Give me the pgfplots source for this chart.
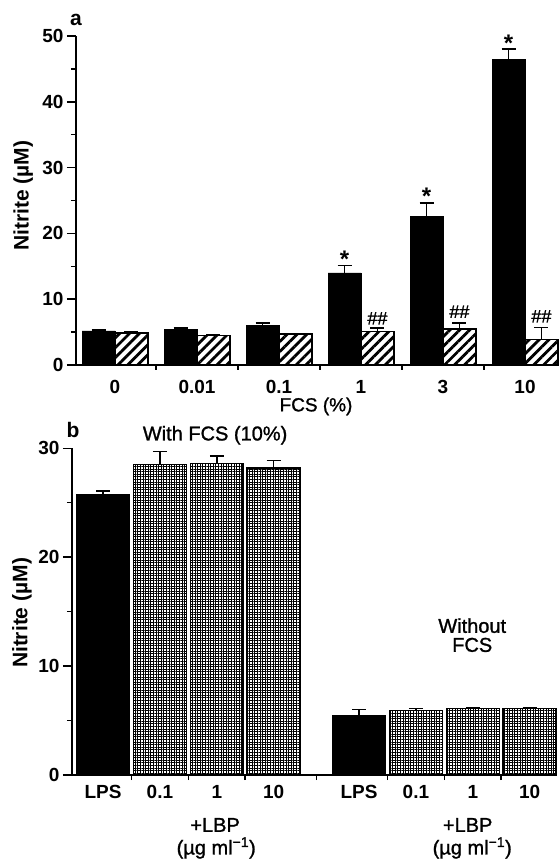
\documentclass[border=0pt]{standalone}
\usepackage{fontspec}
\setmainfont{Liberation Sans}
\newfontfamily\med{Liberation Sans}[FakeBold=1.2]
\usepackage{pgfplots}
\pgfplotsset{compat=1.18}
\usetikzlibrary{patterns.meta}

\newcommand{\fs}[1]{\fontsize{#1}{#1}\selectfont}

\pgfplotsset{
  panel/.style={
    scale only axis, clip=false, ybar,
    axis lines=left, axis line style={-, line width=1.5pt},
    tick align=outside, major tick length=9pt, minor tick length=5pt,
    tick style={black, line width=1.5pt},
    major x tick style={draw=none},
    tick label style={font=\bfseries\fs{19}},
    /pgf/number format/assume math mode=true,
  },
  errs/.style={
    error bars/.cd, y dir=plus, y explicit,
    error bar style={line width=1.5pt, black},
    error mark options={line width=1.5pt, black, mark size=7pt, rotate=90},
  },
}

\begin{document}
\begin{tikzpicture}
\useasboundingbox (0,0) rectangle (559pt,859pt);

%% panel a
\begin{axis}[panel,
  at={(76pt,494pt)}, anchor=south west,
  width=481pt, height=329pt,
  xmin=-0.476, xmax=5.39, ymin=0, ymax=50,
  ytick={0,10,...,50}, minor ytick={5,15,...,45},
  xtick={0,...,5}, xticklabels={0,0.01,0.1,1,3,10},
  minor xtick={0.5,1.5,...,4.5},
  xticklabel style={yshift=-3pt},
  xlabel={FCS (\%)}, xlabel style={font=\med\fs{19}, inner sep=0pt, at={(axis description cs:0.499,-0.126)}, anchor=center},
  ylabel={Nitrite (µM)}, ylabel style={font=\bfseries\fs{21}, at={(axis description cs:-0.110,0.514)}, anchor=center},
]
  \addplot[fill=black, draw=black, bar width=0.4, bar shift=-0.2, errs] coordinates {
    (0,5.2) +- (0,0.1)   (1,5.45) +- (0,0.2)  (2,6.0) +- (0,0.35)
    (3,14.0) +- (0,1.1)  (4,22.6) +- (0,2.0)  (5,46.5) +- (0,1.5)
  };
  \addplot[draw=black, line width=1.5pt, bar width=0.4, bar shift=0.2,
    pattern={Lines[angle=45, distance=7pt, line width=2.8pt]}, errs] coordinates {
    (0,4.9) +- (0,0.1)   (1,4.5) +- (0,0.1)   (2,4.7) +- (0,0.1)
    (3,5.1) +- (0,0.5)   (4,5.5) +- (0,0.9)   (5,3.9) +- (0,1.8)
  };
  % significance marks
  \node[font=\bfseries\fs{24}, inner sep=0pt, anchor=north] at (axis cs:2.8,17.3) {*};
  \node[font=\bfseries\fs{24}, inner sep=0pt, anchor=north] at (axis cs:3.8,26.9) {*};
  \node[font=\bfseries\fs{24}, inner sep=0pt, anchor=north] at (axis cs:4.8,50.2) {*};
  \node[font=\med\fs{18}, inner sep=0pt] at (axis cs:3.2,7.1) {\#\#};
  \node[font=\med\fs{18}, inner sep=0pt] at (axis cs:4.2,8.1) {\#\#};
  \node[font=\med\fs{18}, inner sep=0pt] at (axis cs:5.2,7.4) {\#\#};
\end{axis}

%% panel b
\begin{axis}[panel,
  at={(72pt,84pt)}, anchor=south west,
  width=485pt, height=326.7pt,
  xmin=-0.545, xmax=7.98, ymin=0, ymax=30,
  ytick={0,10,20,30}, minor ytick={5,15,25},
  xtick={0,1,2,3,4.5,5.5,6.5,7.5},
  xticklabels={LPS,0.1,1,10,LPS,0.1,1,10},
  minor xtick={0.5,1.5,2.5,3.75,5,6,7},
  xticklabel style={yshift=2pt},
  ylabel={Nitrite (µM)}, ylabel style={font=\bfseries\fs{21}, at={(axis description cs:-0.103,0.496)}, anchor=center},
]
  \addplot[fill=black, draw=black, line width=1.5pt, bar width=0.93, bar shift=0, errs] coordinates {
    (0,25.7) +- (0,0.4)  (4.5,5.4) +- (0,0.6)
  };
  \addplot[draw=black, line width=1.5pt, bar width=0.93, bar shift=0,
    pattern={Lines[angle=0, distance=2.6pt, line width=0.9pt]},
    postaction={pattern={Lines[angle=90, distance=2.6pt, line width=0.9pt]}}, errs] coordinates {
    (1,28.5) +- (0,1.2)  (2,28.6) +- (0,0.7)  (3,28.2) +- (0,0.7)
    (5.5,5.9) +- (0,0.2) (6.5,6.1) +- (0,0.1) (7.5,6.1) +- (0,0.1)
  };
  \node[font=\med\fs{20}] at (axis cs:1.97,31.2) {With FCS (10\%)};
  \node[font=\med\fs{20}, align=center, text depth=0pt] at (axis cs:6.49,12.85) {Without\\[-1pt]FCS};
  \node[font=\med\fs{20}] at (axis cs:1.97,-4.59) {+LBP};
  \node[font=\med\fs{20}] at (axis cs:1.99,-6.70) {(µg ml\textsuperscript{−1})};
  \node[font=\med\fs{20}] at (axis cs:6.41,-4.59) {+LBP};
  \node[font=\med\fs{20}] at (axis cs:6.49,-6.70) {(µg ml\textsuperscript{−1})};
\end{axis}

\node[font=\bfseries\fs{21}] at (76pt,839pt) {a};
\node[font=\bfseries\fs{21}] at (73pt,429pt) {b};
\end{tikzpicture}
\end{document}
